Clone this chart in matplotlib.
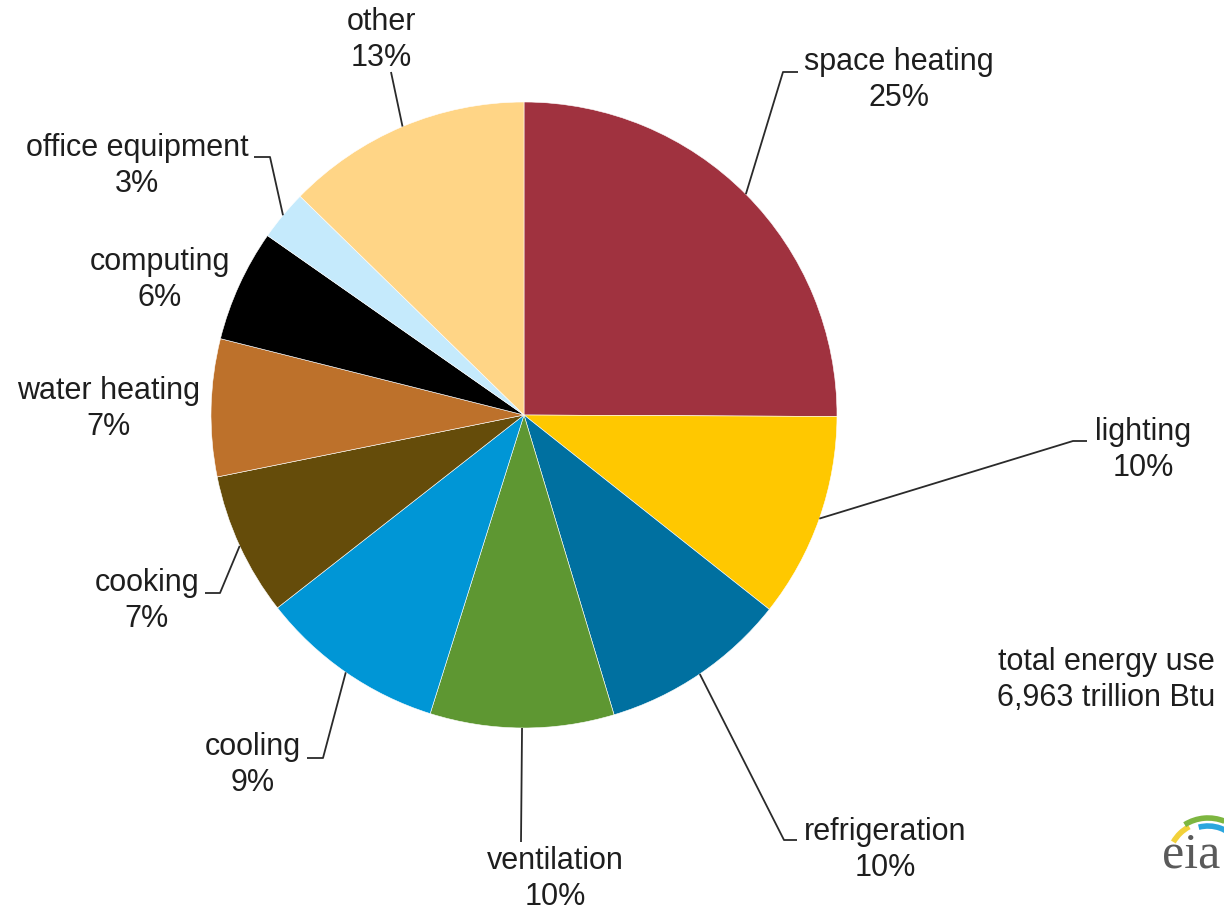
import matplotlib
matplotlib.use("Agg")
import matplotlib.pyplot as plt
from matplotlib.patches import Arc
import numpy as np

# data (share of total, percent)
categories = ["space heating", "lighting", "refrigeration", "ventilation", "cooling",
              "cooking", "water heating", "computing", "office equipment", "other"]
shares = [25.1, 10.6, 9.7, 9.5, 9.6, 7.4, 7.1, 5.8, 2.6, 12.7]
pct_labels = ["25%", "10%", "10%", "10%", "9%", "7%", "7%", "6%", "3%", "13%"]
colors = ["#A0323F", "#FFC800", "#0070A0", "#5E9732", "#0096D6",
          "#654C0A", "#BD712B", "#000000", "#C5EAFC", "#FFD586"]
total_note = "total energy use\n6,963 trillion Btu"

W, H = 1224, 910
def Y(y):
    # picture rows run downwards
    return H - y

# label block centres and leader elbows (picture pixels); None = no leader
label_pos = [(899, 80), (1143, 450), (885, 850), (555, 879), (253, 765),
             (147, 601), (109, 409), (160, 280), (137, 166), (381, 40)]
elbows = [[(783, 72), (798, 72)],
          [(1073, 441), (1087, 441)],
          [(784, 840), (797, 840)],
          [(521, 842)],
          [(323, 758), (307, 758)],
          [(220, 593), (205, 593)],
          None,
          None,
          [(270, 157), (254, 157)],
          [(391, 72)]]

plt.rcParams['font.family'] = ['Liberation Sans', 'DejaVu Sans']

fig = plt.figure(figsize=(W / 100, H / 100), dpi=100)
ax = fig.add_axes([0, 0, 1, 1])

cx, cy, r = 524, Y(415), 313
wedges, _ = ax.pie(shares, colors=colors, startangle=90, counterclock=False,
                   center=(cx, cy), radius=r,
                   wedgeprops=dict(linewidth=0.4, edgecolor="white"))
ax.set_xlim(0, W)
ax.set_ylim(0, H)
ax.set_aspect('equal')
ax.axis('off')

text_color = "#1e1e1e"
line_color = "#2a2a2a"
for w, cat, pct, pos, elb in zip(wedges, categories, pct_labels, label_pos, elbows):
    ax.text(pos[0], Y(pos[1]), cat + "\n" + pct, ha='center', va='center',
            multialignment='center', fontsize=22, color=text_color, linespacing=1.25)
    if elb is None:
        continue
    mid = np.deg2rad((w.theta1 + w.theta2) / 2)
    xs = [cx + r * np.cos(mid)] + [p[0] for p in elb]
    ys = [cy + r * np.sin(mid)] + [Y(p[1]) for p in elb]
    ax.plot(xs, ys, color=line_color, lw=1.3, solid_capstyle='butt')

ax.text(1106, Y(680), total_note, ha='center', va='center', multialignment='center',
        fontsize=22, color=text_color, linespacing=1.25)

# eia logo
ax.text(1191, Y(855), "eia", ha='center', va='center', fontsize=36,
        family=['Liberation Serif', 'DejaVu Serif'], color="#5a5a5a")
for rad, col, t1, t2 in [(40, "#F2D13A", 118, 150), (44, "#7DB640", 68, 122),
                         (36, "#2AA6DE", 35, 105)]:
    ax.add_patch(Arc((1208, Y(862)), 2 * rad, 2 * rad, theta1=t1, theta2=t2,
                     color=col, lw=4))

fig.savefig("out.png", dpi=100, facecolor="white")
